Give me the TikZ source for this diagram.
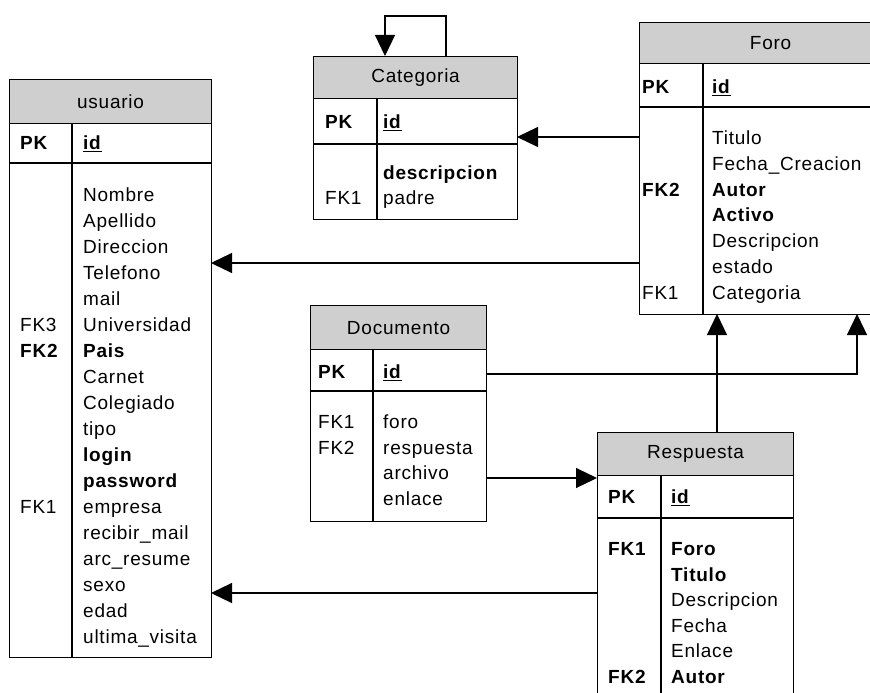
\documentclass[tikz,border=0pt]{standalone}
\usepackage{fontspec}
\setmainfont{Liberation Sans}[LetterSpace=4]
\usetikzlibrary{arrows.meta,positioning}

\tikzset{
  tabla/.style={draw, fill=white, line width=1.2pt, anchor=north west, inner sep=0pt},
  cabecera/.style={draw, fill=black!19, line width=1.2pt, anchor=north west, inner sep=0pt},
  campo/.style={anchor=base west, inner sep=0pt},
  linea/.style={line width=1.2pt},
  flecha/.style={line width=1.2pt, -{Triangle[length=21pt,width=20pt]}}
}

\begin{document}
\begin{tikzpicture}[x=1pt,y=-1pt,font=\fontsize{19}{26}\selectfont]
\useasboundingbox (0,0) rectangle (870,693);
\clip (0,0) rectangle (870,693);

% usuario
\node[tabla, minimum width=202pt, minimum height=578pt] (usuario) at (9,79) {};
\node[cabecera, minimum width=202pt, minimum height=44pt] (usuario-tit) at (usuario.north west) {usuario};
\draw[linea] (9,163) -- (211,163);
\draw[linea] (72,123) -- (72,657);
\node[campo] (usuario-pk) at (20,149.5) {\textbf{PK}};
\node[campo] (usuario-id) at (83,149.5) {\underline{\textbf{id}}};
\foreach \t [count=\i] in {Nombre,Apellido,Direccion,Telefono,mail,Universidad,\textbf{Pais},Carnet,Colegiado,tipo,\textbf{login},\textbf{password},empresa,recibir\_mail,arc\_resume,sexo,edad,ultima\_visita}
  \node[campo] (usuario-\i) at (83,{201.5+26*(\i-1)}) {\t};
\node[campo] (usuario-fk3) at (20,331.5) {FK3};
\node[campo] (usuario-fk2) at (20,357.5) {\textbf{FK2}};
\node[campo] (usuario-fk1) at (20,513.5) {FK1};

% Categoria
\node[tabla, minimum width=204pt, minimum height=163pt] (categoria) at (313,56) {};
\node[cabecera, minimum width=204pt, minimum height=42pt] (categoria-tit) at (categoria.north west) {Categoria};
\draw[linea] (313,144) -- (517,144);
\draw[linea] (377,98) -- (377,219);
\node[campo] (categoria-pk) at (325,128.5) {\textbf{PK}};
\node[campo] (categoria-id) at (383,128.5) {\underline{\textbf{id}}};
\foreach \t [count=\i] in {\textbf{descripcion},padre}
  \node[campo] (categoria-\i) at (383,{179.5+25*(\i-1)}) {\t};
\node[campo] (categoria-fk1) at (325,204.5) {FK1};

% Foro
\node[tabla, minimum width=262pt, minimum height=292pt] (foro) at (639,22) {};
\node[cabecera, minimum width=262pt, minimum height=41pt] (foro-tit) at (foro.north west) {Foro};
\draw[linea] (639,107) -- (901,107);
\draw[linea] (703,63) -- (703,314);
\node[campo] (foro-pk) at (642,93.5) {\textbf{PK}};
\node[campo] (foro-id) at (712,93.5) {\underline{\textbf{id}}};
\foreach \t [count=\i] in {Titulo,Fecha\_Creacion,\textbf{Autor},\textbf{Activo},Descripcion,estado,Categoria}
  \node[campo] (foro-\i) at (712,{144.5+25.8*(\i-1)}) {\t};
\node[campo] (foro-fk2) at (642,196.1) {\textbf{FK2}};
\node[campo] (foro-fk1) at (642,299.3) {FK1};

% Documento
\node[tabla, minimum width=176pt, minimum height=216pt] (documento) at (310,305) {};
\node[cabecera, minimum width=176pt, minimum height=44pt] (documento-tit) at (documento.north west) {Documento};
\draw[linea] (310,391) -- (486,391);
\draw[linea] (373,349) -- (373,521);
\node[campo] (documento-pk) at (318,378.5) {\textbf{PK}};
\node[campo] (documento-id) at (383,378.5) {\underline{\textbf{id}}};
\foreach \t [count=\i] in {foro,respuesta,archivo,enlace}
  \node[campo] (documento-\i) at (383,{428.5+25.7*(\i-1)}) {\t};
\node[campo] (documento-fk1) at (318,428.5) {FK1};
\node[campo] (documento-fk2) at (318,454.2) {FK2};

% Respuesta
\node[tabla, minimum width=196pt, minimum height=280pt] (respuesta) at (597,432) {};
\node[cabecera, minimum width=196pt, minimum height=43pt] (respuesta-tit) at (respuesta.north west) {Respuesta};
\draw[linea] (597,518) -- (793,518);
\draw[linea] (661,475) -- (661,712);
\node[campo] (respuesta-pk) at (608,503.5) {\textbf{PK}};
\node[campo] (respuesta-id) at (671,503.5) {\underline{\textbf{id}}};
\foreach \t [count=\i] in {\textbf{Foro},\textbf{Titulo},Descripcion,Fecha,Enlace,\textbf{Autor}}
  \node[campo] (respuesta-\i) at (671,{555.5+25.6*(\i-1)}) {\t};
\node[campo] (respuesta-fk1) at (608,555.5) {\textbf{FK1}};
\node[campo] (respuesta-fk2) at (608,683.5) {\textbf{FK2}};

% puntos de las relaciones
\coordinate (cat-sale) at (446,56);
\coordinate (cat-lazo) at (385,16);
\coordinate (cat-entra) at (385,56);
\coordinate (foro-cat) at (639,137);
\coordinate (cat-foro) at (517,137);
\coordinate (foro-usu) at (639,263);
\coordinate (usu-foro) at (211,263);
\coordinate (doc-foro) at (486,374);
\coordinate (foro-doc) at (857,314);
\coordinate (resp-foro) at (717,432);
\coordinate (foro-resp) at (717,314);
\coordinate (doc-resp) at (486,478);
\coordinate (resp-doc) at (597,478);
\coordinate (resp-usu) at (597,593);
\coordinate (usu-resp) at (211,593);

% relaciones
\draw[flecha] (cat-sale) |- (cat-lazo) -- (cat-entra);
\draw[flecha] (foro-cat) -- (cat-foro);
\draw[flecha] (foro-usu) -- (usu-foro);
\draw[flecha] (doc-foro) -| (foro-doc);
\draw[flecha] (resp-foro) -- (foro-resp);
\draw[flecha] (doc-resp) -- (resp-doc);
\draw[flecha] (resp-usu) -- (usu-resp);
\end{tikzpicture}
\end{document}
